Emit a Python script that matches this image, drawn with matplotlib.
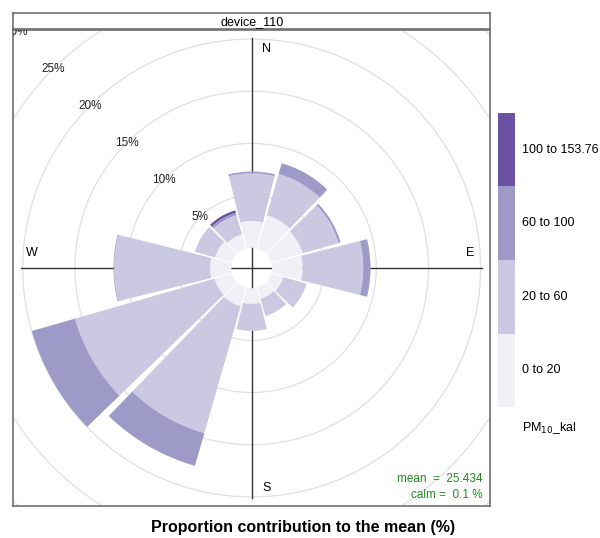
import matplotlib
matplotlib.use('Agg')
import matplotlib.pyplot as plt
from matplotlib.patches import Wedge, Circle

plt.rcParams['font.family'] = ['Liberation Sans', 'DejaVu Sans']

# wind direction sectors (degrees from north)
directions = [0, 30, 60, 90, 120, 150, 180, 210, 240, 270, 300, 330]

# contribution to the mean (%) for each PM10 band, per sector
pm_0_20 = [2.56, 3.32, 3.13, 2.94, 1.22, 1.12, 1.50, 1.89, 1.76, 2.05, 1.70, 1.41]
pm_20_60 = [4.57, 4.12, 3.59, 5.81, 2.30, 1.72, 2.59, 12.64, 13.92, 9.18, 2.01, 1.91]
pm_60_100 = [0.17, 1.06, 0.20, 0.70, 0.0, 0.0, 0.0, 3.26, 4.31, 0.07, 0.0, 0.24]
pm_100_154 = [0.0, 0.0, 0.0, 0.0, 0.0, 0.0, 0.0, 0.0, 0.0, 0.0, 0.0, 0.24]

bands = [pm_0_20, pm_20_60, pm_60_100, pm_100_154]
band_labels = ['0 to 20', '20 to 60', '60 to 100', '100 to 153.76']
band_colors = ['#F2F0F7', '#CBC9E2', '#9E9AC8', '#6A51A3']

grid_levels = [5, 10, 15, 20, 25, 30]
panel_title = 'device_110'
mean_value = 25.434
calm_value = 0.1

offset = 1.944      # radius of the empty centre, in % units
half_width = 14     # half angular width of a sector (deg)
lim = 22.85

fig = plt.figure(figsize=(6.0, 5.38), dpi=100)
ax = fig.add_axes([0.0222, 0.0582, 0.7945, 0.8874])
ax.set_xlim(-lim, lim)
ax.set_ylim(-lim, lim)
ax.set_aspect('equal')
ax.set_xticks([])
ax.set_yticks([])
for sp in ax.spines.values():
    sp.set_color('#707070')
    sp.set_linewidth(1.2)

# grid circles and their labels along the NW diagonal
for lev in grid_levels:
    r = offset + lev
    ax.add_patch(Circle((0, 0), r, fill=False, ec='#e0e0e0', lw=0.9, zorder=1))
    ax.text(-r * 0.7071, r * 0.7071, '%d%%' % lev, ha='center', va='center',
            fontsize=8.5, color='#222222', zorder=5, clip_on=True)

# compass cross
arm = 22.08
ax.plot([-arm, arm], [0, 0], color='#333333', lw=1, zorder=2)
ax.plot([0, 0], [-arm, arm], color='#333333', lw=1, zorder=2)
ax.text(1.42, 20.98, 'N', ha='center', va='center', fontsize=9, zorder=5)
ax.text(20.91, 1.44, 'E', ha='center', va='center', fontsize=9, zorder=5)
ax.text(1.42, -21.07, 'S', ha='center', va='center', fontsize=9, zorder=5)
ax.text(-21.04, 1.44, 'W', ha='center', va='center', fontsize=9, zorder=5)

# stacked sectors
for i, wd in enumerate(directions):
    base = 0.0
    for vals, col in zip(bands, band_colors):
        v = vals[i]
        if v > 0:
            top = base + v
            ang = 90 - wd
            ax.add_patch(Wedge((0, 0), offset + top, ang - half_width, ang + half_width,
                               width=v, fc=col, ec='none', lw=0, zorder=3))
            base = top

ax.text(22.13, -20.21, 'mean  =  %.3f' % mean_value, ha='right', va='center',
        fontsize=8.5, color='forestgreen', zorder=5)
ax.text(22.13, -21.74, 'calm =  %.1f %%' % calm_value, ha='right', va='center',
        fontsize=8.5, color='forestgreen', zorder=5)

# strip with panel name
strip = fig.add_axes([0.0222, 0.9455, 0.7945, 0.0297])
strip.set_xticks([])
strip.set_yticks([])
for sp in strip.spines.values():
    sp.set_color('#707070')
    sp.set_linewidth(1.2)
strip.text(0.5, 0.45, panel_title, ha='center', va='center', fontsize=9,
           transform=strip.transAxes)

# colour key
cax = fig.add_axes([0.8295, 0.2429, 0.0293, 0.5476])
cax.bar([0] * len(band_colors), [1] * len(band_colors), bottom=range(len(band_colors)),
        width=1, color=band_colors)
cax.set_xlim(-0.5, 0.5)
cax.set_ylim(0, len(band_colors))
cax.axis('off')
for k, lab in enumerate(band_labels):
    cax.text(0.86, k + 0.5, lab, va='center', ha='left', fontsize=9)

fig.text(0.8695, 0.2039, 'PM$_{10}$_kal', ha='left', va='center', fontsize=9)

fig.text(0.505, 0.0186, 'Proportion contribution to the mean (%)', ha='center',
         va='center', fontsize=11.5, fontweight='bold')

fig.savefig('out.png', dpi=100)
